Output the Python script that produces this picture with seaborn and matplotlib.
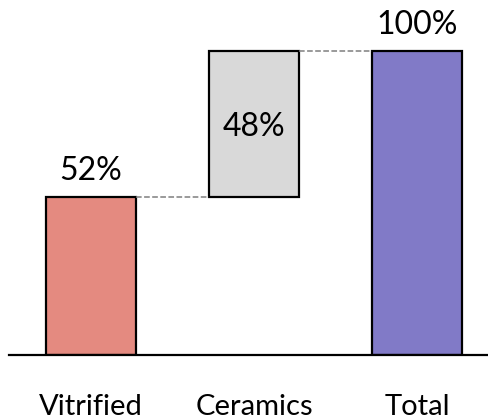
import numpy as np
import pandas as pd
import seaborn as sns
import matplotlib
matplotlib.use('Agg')
import matplotlib.pyplot as plt

sns.set_style("white")
plt.rcParams['font.family'] = ['Lato', 'DejaVu Sans']

# data
categories = ['Vitrified', 'Ceramics', 'Total']
values     = [52, 48, 100]
bottoms    = [0, 52, 0]
labels     = ['52%', '48%', '100%']
colors     = ['#E48A80', '#D9D9D9', '#817AC7']

df = pd.DataFrame({'cat': categories, 'val': values})

fig = plt.figure(figsize=(4.89, 4.20), dpi=100)
ax = fig.add_axes([9/489, 65/420, 480/489, 355/420])

sns.barplot(data=df, x='cat', y='val', hue='cat', palette=colors, legend=False,
            width=0.55, edgecolor='black', linewidth=1.6, saturation=1, ax=ax)

# move the floating bar up
for p, b in zip(ax.patches, bottoms):
    p.set_y(b)

# connectors
for i in range(len(categories) - 1):
    top = bottoms[i] + values[i]
    x0 = ax.patches[i].get_x() + ax.patches[i].get_width()
    x1 = ax.patches[i + 1].get_x()
    ax.plot([x0, x1], [top, top], color='#7f7f7f', linestyle='--', linewidth=1.1, zorder=1)

# value labels
for i, (v, b, t) in enumerate(zip(values, bottoms, labels)):
    if b > 0:
        ax.text(i, b + v / 2 - 1, t, ha='center', va='center', fontsize=23, color='black')
    else:
        ax.text(i, v + 8.5, t, ha='center', va='center', fontsize=23, color='black')

ax.set_xlim(-0.503, 2.44)
ax.set_ylim(0, 116.8)
ax.set_xlabel('')
ax.set_ylabel('')
ax.set_yticks([])
ax.tick_params(axis='x', length=0, pad=28, labelsize=21, labelcolor='black')
for s in ['top', 'right', 'left']:
    ax.spines[s].set_visible(False)
ax.spines['bottom'].set_color('black')
ax.spines['bottom'].set_linewidth(1.6)

plt.savefig('out.png', dpi=100)
